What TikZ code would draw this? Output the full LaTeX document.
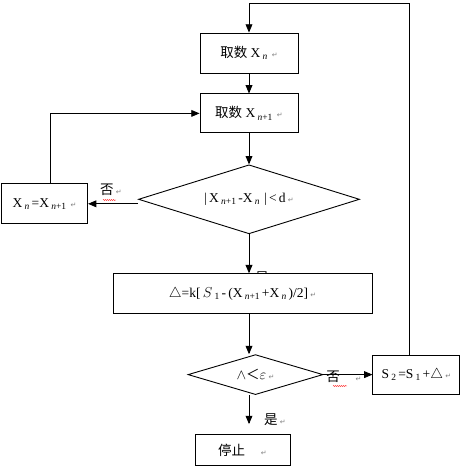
\documentclass[tikz,border=0pt]{standalone}
\usepackage{fontspec}
\setmainfont{Liberation Serif}
\newfontfamily\cjk{Noto Sans CJK SC}
\newfontfamily\dejavu{DejaVu Sans}
\usetikzlibrary{shapes.geometric, positioning, arrows, decorations.pathmorphing}
\newcommand\pmark{\,{\dejavu\color{gray}\scriptsize ↵}}
\newcommand\lowidx[1]{\,\raisebox{-0.35ex}{\fontsize{9.5}{10}\selectfont #1}\,}

\begin{document}
\begin{tikzpicture}[x=1pt,y=-1pt,>=triangle 45,line width=0.9pt,font=\fontsize{13.5}{15}\selectfont,
    box/.style={draw, fill=white, inner sep=2pt},
    decision/.style={draw, diamond, inner sep=0pt},
    lbl/.style={inner sep=1pt},
    spell/.style={red, line width=0.4pt, decorate, decoration={snake, amplitude=0.5pt, segment length=2pt}}]
    \useasboundingbox (0,0) rectangle (461,467);
    \node (fetchx) [box, minimum width=98pt, minimum height=40pt] at (249,53) {{\cjk 取数} X\lowidx{\textit{n}}\pmark};
    \coordinate [above=29.5pt of fetchx] (top);
    \node (fetchnext) [below=20pt of fetchx, box, minimum width=98pt, minimum height=39pt] {{\cjk 取数} X\lowidx{\textit{n}+1}\pmark};
    \node (check) [below=31pt of fetchnext, decision, aspect=3.2, minimum width=221pt, minimum height=69pt] {|\,X\lowidx{\textit{n}+1}-X\lowidx{\textit{n}}\,|\,<\,d\pmark};
    \node (keep) [left=50pt of check, yshift=-4.5pt, box, minimum width=86pt, minimum height=40pt] {X\lowidx{\textit{n}}=X\lowidx{\textit{n}+1}\pmark};
    \node (hidden) at (262,277.5) {\cjk 是};
    \node (delta) [below=39pt of check, xshift=-6.5pt, box, minimum width=259pt, minimum height=40pt] {$\triangle$=k[\,$S$\lowidx{1}-\,(X\lowidx{\textit{n}+1}+X\lowidx{\textit{n}})/2]\pmark};
    \node (test) [below=40pt of delta, xshift=13pt, decision, aspect=3.4, minimum width=135pt, minimum height=40pt] {$\wedge${\cjk ＜}$\varepsilon$\pmark};
    \node (update) [right=49pt of test, box, minimum width=87pt, minimum height=39pt] {S\lowidx{2}=S\lowidx{1}+$\triangle$\pmark};
    \node (stop) [below=39pt of test, xshift=-13pt, box, minimum width=95pt, minimum height=31pt] {{\cjk 停止}\quad\pmark};
    % labels
    \node (no1) [lbl] at (111,190) {{\cjk 否}\pmark};
    \node (no2) [lbl] at (344,377) {{\cjk 否}\quad\pmark};
    \node (yes) [lbl] at (275,420) {{\cjk 是}\pmark};
    \draw[spell] (103,200) -- (116,200);
    \draw[spell] (333,386) -- (347,386);
    % connectors
    \draw[->] (top) -- (fetchx.north);
    \draw[->] (fetchx) -- (fetchnext);
    \draw[->] (fetchnext) -- (check);
    \draw[->] (check.west |- keep.east) -- (keep.east);
    \draw[->] ([xshift=6pt]keep.north) |- (fetchnext.west);
    \draw[->] (check.south) -- (check.south |- delta.north);
    \draw[->] (delta.south -| fetchx.south) -- (test.north -| fetchx.south);
    \draw[->] (test.east) -- (update.west);
    \draw[->,shorten >=10pt] (test.south -| fetchx.south) -- (stop.north -| fetchx.south);
    \draw ([xshift=-6.5pt]update.north) |- (top);
\end{tikzpicture}
\end{document}
